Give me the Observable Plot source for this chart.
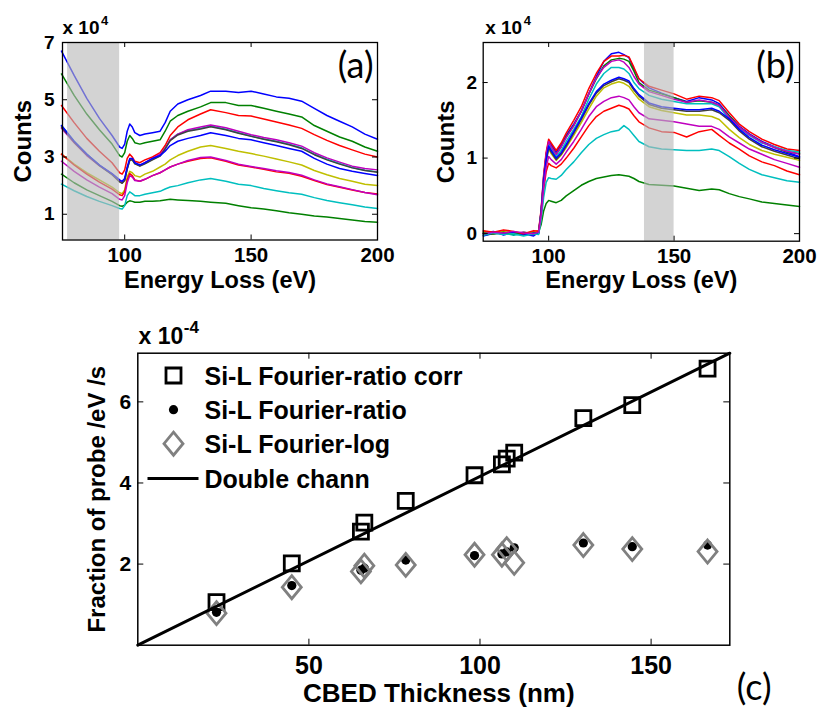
<!DOCTYPE html>
<html><head><meta charset="utf-8">
<script src="https://cdn.jsdelivr.net/npm/d3@7"></script>
<script src="https://cdn.jsdelivr.net/npm/@observablehq/plot@0.6"></script>
<style>
body{margin:0;background:#fff;}
#root{position:relative;width:825px;height:710px;overflow:hidden;}
.panel{position:absolute;}
.panel svg{overflow:visible;}
</style></head><body><div id="root"></div>
<script>
// ---------- Panel (a): raw spectra (x 10^4 counts) ----------
const energyA = [75, 80, 85, 90, 95, 98, 99, 100, 101, 102, 103, 104, 106, 108, 111, 114, 116, 118, 121, 125, 130, 134, 140, 145, 150, 155, 160, 165, 170, 175, 180, 185, 190, 195, 200];
const a01 = [6.7, 5.85, 5.05, 4.35, 3.75, 3.35, 3.3, 3.45, 3.9, 4.15, 4.05, 3.85, 3.75, 3.8, 3.85, 3.9, 4.2, 4.6, 4.85, 5.0, 5.15, 5.3, 5.3, 5.25, 5.3, 5.2, 5.1, 5.05, 4.95, 4.7, 4.45, 4.25, 4.05, 3.8, 3.62];
const a02 = [5.9, 5.15, 4.5, 3.95, 3.45, 3.05, 3.0, 3.15, 3.55, 3.75, 3.65, 3.5, 3.45, 3.5, 3.55, 3.6, 3.9, 4.25, 4.45, 4.6, 4.75, 4.9, 4.9, 4.8, 4.8, 4.7, 4.6, 4.5, 4.4, 4.1, 3.9, 3.7, 3.55, 3.35, 3.2];
const a03 = [4.8, 4.2, 3.65, 3.2, 2.8, 2.45, 2.4, 2.55, 2.95, 3.1, 3.0, 2.85, 2.8, 2.9, 3.0, 3.15, 3.4, 3.75, 4.05, 4.3, 4.5, 4.65, 4.55, 4.45, 4.43, 4.33, 4.22, 4.12, 4.0, 3.78, 3.58, 3.4, 3.25, 3.1, 3.0];
const a04 = [4.1, 3.55, 3.1, 2.72, 2.4, 2.15, 2.1, 2.2, 2.6, 2.9, 2.9, 2.78, 2.7, 2.78, 2.92, 3.05, 3.3, 3.6, 3.8, 3.92, 4.0, 4.08, 3.97, 3.85, 3.73, 3.63, 3.55, 3.45, 3.32, 3.1, 2.92, 2.77, 2.63, 2.54, 2.48];
const a05 = [4.0, 3.5, 3.05, 2.7, 2.4, 2.15, 2.1, 2.2, 2.6, 2.9, 2.95, 2.8, 2.7, 2.8, 2.95, 3.1, 3.3, 3.6, 3.8, 3.95, 4.05, 4.12, 4.02, 3.9, 3.78, 3.68, 3.6, 3.5, 3.38, 3.15, 2.97, 2.82, 2.68, 2.6, 2.55];
const a06 = [3.1, 2.75, 2.45, 2.2, 1.95, 1.75, 1.72, 1.85, 2.3, 2.5, 2.45, 2.35, 2.3, 2.4, 2.5, 2.65, 2.75, 2.9, 3.05, 3.2, 3.35, 3.4, 3.3, 3.2, 3.12, 3.03, 2.93, 2.83, 2.72, 2.53, 2.38, 2.25, 2.15, 2.05, 2.0];
const a07 = [4.05, 3.52, 3.08, 2.7, 2.38, 2.13, 2.08, 2.18, 2.58, 2.88, 2.9, 2.76, 2.68, 2.76, 2.9, 3.03, 3.28, 3.57, 3.77, 3.9, 3.98, 4.06, 3.95, 3.83, 3.72, 3.62, 3.53, 3.43, 3.3, 3.08, 2.9, 2.75, 2.62, 2.53, 2.47];
const a08 = [4.1, 3.55, 3.1, 2.72, 2.42, 2.2, 2.15, 2.25, 2.65, 2.95, 2.95, 2.8, 2.72, 2.8, 2.95, 3.05, 3.2, 3.4, 3.55, 3.65, 3.75, 3.85, 3.75, 3.65, 3.6, 3.5, 3.4, 3.3, 3.2, 2.95, 2.75, 2.6, 2.5, 2.42, 2.35];
const a09 = [2.4, 2.1, 1.85, 1.65, 1.45, 1.3, 1.28, 1.32, 1.42, 1.47, 1.45, 1.42, 1.42, 1.45, 1.45, 1.47, 1.5, 1.52, 1.5, 1.48, 1.45, 1.42, 1.38, 1.3, 1.23, 1.18, 1.12, 1.05, 1.0, 0.94, 0.9, 0.85, 0.8, 0.75, 0.72];
const a10 = [3.1, 2.72, 2.4, 2.12, 1.88, 1.68, 1.65, 1.78, 2.2, 2.42, 2.35, 2.2, 2.15, 2.22, 2.35, 2.45, 2.55, 2.65, 2.75, 2.85, 2.95, 2.97, 2.85, 2.72, 2.65, 2.57, 2.48, 2.43, 2.33, 2.18, 2.04, 1.94, 1.85, 1.76, 1.71];
const a11 = [2.05, 1.82, 1.62, 1.45, 1.3, 1.2, 1.18, 1.3, 1.65, 1.78, 1.72, 1.65, 1.65, 1.7, 1.75, 1.8, 1.88, 1.95, 2.0, 2.1, 2.2, 2.25, 2.15, 2.05, 2.0, 1.9, 1.82, 1.75, 1.7, 1.58, 1.48, 1.4, 1.33, 1.25, 1.2];
const a12 = [2.85, 2.5, 2.2, 1.95, 1.72, 1.52, 1.5, 1.65, 2.1, 2.35, 2.3, 2.18, 2.15, 2.22, 2.35, 2.45, 2.55, 2.65, 2.75, 2.88, 2.98, 3.0, 2.88, 2.75, 2.67, 2.6, 2.52, 2.46, 2.36, 2.2, 2.06, 1.96, 1.86, 1.76, 1.68];

// ---------- Panel (b): background-subtracted spectra (x 10^4 counts) ----------
const energyB = [74, 78, 82, 86, 90, 94, 96, 97, 98, 99, 100, 101, 103, 105, 107, 110, 113, 116, 119, 122, 125, 128, 130, 132, 134, 136, 140, 145, 150, 155, 160, 165, 168, 172, 176, 180, 185, 190, 195, 200];
const b01 = [0.01, 0.03, -0.02, 0.02, 0.0, -0.03, 0.02, 0.3, 0.75, 1.05, 1.22, 1.18, 1.08, 1.18, 1.3, 1.45, 1.62, 1.85, 2.08, 2.28, 2.38, 2.4, 2.37, 2.33, 2.18, 2.05, 1.93, 1.86, 1.8, 1.75, 1.8, 1.77, 1.72, 1.56, 1.42, 1.32, 1.22, 1.15, 1.08, 1.02];
const b02 = [0.0, 0.02, 0.01, -0.01, 0.02, 0.0, 0.01, 0.28, 0.72, 1.02, 1.2, 1.15, 1.05, 1.15, 1.28, 1.43, 1.62, 1.85, 2.05, 2.22, 2.3, 2.32, 2.31, 2.28, 2.15, 2.0, 1.9, 1.85, 1.8, 1.74, 1.76, 1.74, 1.7, 1.56, 1.41, 1.31, 1.21, 1.14, 1.08, 1.06];
const b03 = [0.03, 0.01, 0.04, 0.02, -0.01, 0.03, 0.04, 0.32, 0.78, 1.08, 1.25, 1.2, 1.1, 1.2, 1.33, 1.5, 1.68, 1.92, 2.12, 2.28, 2.35, 2.35, 2.36, 2.34, 2.2, 2.05, 1.95, 1.9, 1.85, 1.78, 1.82, 1.8, 1.76, 1.6, 1.45, 1.35, 1.25, 1.18, 1.12, 1.1];
const b04 = [-0.02, 0.0, 0.01, -0.02, 0.0, -0.01, 0.01, 0.28, 0.72, 1.0, 1.18, 1.12, 1.02, 1.1, 1.22, 1.38, 1.55, 1.78, 1.98, 2.12, 2.2, 2.2, 2.18, 2.12, 2.0, 1.92, 1.83, 1.78, 1.75, 1.72, 1.72, 1.72, 1.68, 1.52, 1.4, 1.3, 1.2, 1.15, 1.1, 1.08];
const b05 = [0.0, 0.02, 0.0, 0.01, 0.02, 0.0, 0.02, 0.3, 0.75, 1.05, 1.22, 1.15, 1.05, 1.15, 1.27, 1.43, 1.62, 1.85, 2.06, 2.2, 2.28, 2.3, 2.27, 2.2, 2.08, 1.98, 1.88, 1.83, 1.78, 1.74, 1.77, 1.74, 1.7, 1.54, 1.41, 1.31, 1.21, 1.14, 1.09, 1.05];
const b06 = [0.02, 0.0, 0.03, 0.01, 0.0, 0.02, 0.03, 0.27, 0.68, 0.95, 1.12, 1.06, 0.97, 1.04, 1.14, 1.3, 1.47, 1.65, 1.82, 1.93, 1.98, 2.01, 1.99, 1.95, 1.86, 1.78, 1.68, 1.63, 1.6, 1.57, 1.57, 1.55, 1.51, 1.38, 1.27, 1.18, 1.1, 1.05, 1.01, 0.97];
const b07 = [-0.02, 0.0, 0.01, 0.0, -0.01, 0.0, 0.01, 0.27, 0.68, 0.96, 1.14, 1.08, 0.98, 1.05, 1.16, 1.33, 1.51, 1.7, 1.86, 1.96, 2.01, 2.05, 2.03, 2.0, 1.9, 1.82, 1.71, 1.66, 1.64, 1.62, 1.62, 1.64, 1.6, 1.5, 1.36, 1.25, 1.15, 1.09, 1.04, 0.99];
const b08 = [-0.03, 0.01, 0.0, 0.02, -0.02, 0.01, 0.0, 0.28, 0.7, 0.98, 1.16, 1.1, 1.0, 1.07, 1.18, 1.35, 1.53, 1.72, 1.88, 1.98, 2.03, 2.07, 2.05, 2.02, 1.92, 1.84, 1.73, 1.68, 1.66, 1.64, 1.64, 1.66, 1.62, 1.52, 1.38, 1.27, 1.17, 1.11, 1.06, 1.01];
const b09 = [0.01, 0.0, 0.02, -0.01, 0.01, 0.0, 0.02, 0.12, 0.3, 0.4, 0.44, 0.43, 0.41, 0.44, 0.5, 0.57, 0.64, 0.69, 0.73, 0.75, 0.77, 0.78, 0.77, 0.76, 0.73, 0.69, 0.65, 0.64, 0.63, 0.6, 0.57, 0.59, 0.58, 0.53, 0.49, 0.46, 0.42, 0.4, 0.38, 0.36];
const b10 = [0.04, 0.02, 0.05, 0.03, 0.0, 0.04, 0.03, 0.22, 0.58, 0.82, 0.93, 0.9, 0.87, 0.92, 1.0, 1.13, 1.28, 1.43, 1.55, 1.62, 1.66, 1.7, 1.68, 1.65, 1.56, 1.48, 1.4, 1.35, 1.34, 1.28, 1.35, 1.38, 1.3, 1.2, 1.12, 1.03, 0.95, 0.9, 0.83, 0.78];
const b11 = [-0.02, 0.01, -0.01, 0.0, -0.03, 0.0, -0.01, 0.18, 0.48, 0.68, 0.74, 0.73, 0.72, 0.77, 0.85, 0.95, 1.07, 1.18, 1.26, 1.31, 1.35, 1.37, 1.43, 1.38, 1.3, 1.22, 1.15, 1.12, 1.11, 1.1, 1.1, 1.12, 1.1, 1.02, 0.93, 0.85, 0.78, 0.74, 0.7, 0.68];
const b12 = [0.0, 0.02, 0.01, 0.03, 0.01, 0.0, 0.02, 0.24, 0.62, 0.88, 1.02, 0.98, 0.92, 0.98, 1.08, 1.22, 1.38, 1.55, 1.68, 1.75, 1.8, 1.82, 1.8, 1.77, 1.68, 1.6, 1.52, 1.5, 1.48, 1.45, 1.42, 1.42, 1.38, 1.28, 1.2, 1.12, 1.05, 0.98, 0.93, 0.88];

const seriesNames = ["1","2","3","4","5","6","7","8","9","10","11","12"];
const seriesColors = ["#0000ff","#008000","#ff0000","#00bfbf","#bf00bf","#bfbf00","#404040","#0000ff","#008000","#ff0000","#00bfbf","#bf00bf"];
const shadeA = [77.4, 98];
const shadeB = [138.2, 150];

// ---------- Panel (c): fraction of probe (x 10^-4) ----------
const thickness = [23, 45, 65.2, 66.2, 78.3, 98.4, 106.4, 107.8, 110, 130.2, 144.5, 166.5];
const ratioCorr = [1.06, 2.02, 2.8, 3.02, 3.56, 4.19, 4.46, 4.6, 4.75, 5.6, 5.92, 6.82];
const ratio = [0.81, 1.47, 1.85, 1.9, 2.1, 2.21, 2.25, 2.3, 2.4, 2.52, 2.43, 2.47];
const logMethod = [0.79, 1.43, 1.82, 1.96, 1.98, 2.23, 2.23, 2.37, 2.03, 2.47, 2.37, 2.31];
const doubleThk = [0, 173];
const doubleVal = [0, 7.2];
const legendLabels = ["Si-L Fourier-ratio corr", "Si-L Fourier-ratio", "Si-L Fourier-log", "Double chann"];

// ---------- build ----------
const FONT = "'Liberation Sans', Arial, sans-serif";
const TAGFONT = "Lato, 'Open Sans', sans-serif";
const root = document.getElementById("root");
function place(el, left, top){ const d=document.createElement("div"); d.className="panel"; d.style.left=left+"px"; d.style.top=top+"px"; d.appendChild(el); root.appendChild(d); }

function boxTicks(xt, yt, iw, ih, len){
  return [
    Plot.tickX(xt, {x: d=>d, insetTop: ih-len, stroke:"#000", strokeWidth:1}),
    Plot.tickX(xt, {x: d=>d, insetBottom: ih-len, stroke:"#000", strokeWidth:1}),
    Plot.tickY(yt, {y: d=>d, insetRight: iw-len, stroke:"#000", strokeWidth:1}),
    Plot.tickY(yt, {y: d=>d, insetLeft: iw-len, stroke:"#000", strokeWidth:1})
  ];
}
function longData(E, curves){ return curves.flatMap((vals,k)=>E.map((e,i)=>({E:e, v:vals[i], s:seriesNames[k]}))); }

function spectrumPanel(o){
  const iw = o.width - o.ml - o.mr, ih = o.height - o.mt - o.mb;
  return Plot.plot({
    width:o.width, height:o.height, marginLeft:o.ml, marginRight:o.mr, marginTop:o.mt, marginBottom:o.mb,
    x:{domain:o.xd}, y:{domain:o.yd},
    color:{type:"ordinal", domain:seriesNames, range:seriesColors},
    style:{fontFamily:FONT, fontWeight:"bold", color:"#000", background:"transparent"},
    marks:[
      Plot.line(longData(o.E, o.curves), {x:"E", y:"v", z:"s", stroke:"s", strokeWidth:1.5, curve:"linear"}),
      Plot.rect([o.shade], {x1:d=>d[0], x2:d=>d[1], fill:"#b8b8b8", fillOpacity:0.62}),
      Plot.frame({stroke:"#000", strokeWidth:1.3}),
      ...boxTicks(o.xt, o.yt, iw, ih, 5),
      Plot.axisX({ticks:o.xt, tickSize:0, tickPadding:7, fontSize:20.5, fontWeight:"bold", label:null, tickFormat:d=>String(d)}),
      Plot.axisY({ticks:o.yt, tickSize:0, tickPadding:o.ypad, fontSize:19, fontWeight:"bold", label:null, tickFormat:d=>String(d)}),
      Plot.text(["Energy Loss (eV)"], {frameAnchor:"bottom", textAnchor:"middle", dy:o.xlabDy, lineAnchor:"bottom", fontSize:23.5, fontWeight:"bold"}),
      Plot.text(["Counts"], {frameAnchor:"left", textAnchor:"middle", dx:o.ylabDx, rotate:-90, lineAnchor:"bottom", fontSize:24, fontWeight:"bold"}),
      Plot.text(["x 10"], {frameAnchor:"top-left", dx:o.expDx, dy:-9, textAnchor:"start", lineAnchor:"bottom", fontSize:19, fontWeight:"bold"}),
      Plot.text(["4"], {frameAnchor:"top-left", dx:o.expDx+38.5, dy:-18, textAnchor:"start", lineAnchor:"bottom", fontSize:13, fontWeight:"bold"}),
      Plot.text([o.tag], {frameAnchor:"top-right", dx:o.tagDx, dy:35, textAnchor:"end", lineAnchor:"bottom", fontSize:36, fontWeight:"normal", fontFamily:TAGFONT})
    ]
  });
}

const pa = spectrumPanel({width:405, height:300, ml:62, mr:28, mt:42, mb:60.5, xd:[75.4,200], yd:[0.1,7],
  E:energyA, curves:[a01,a02,a03,a04,a05,a06,a07,a08,a09,a10,a11,a12], shade:shadeA,
  xt:[100,150,200], yt:[1,3,5,7], ypad:8, xlabDy:48, ylabDx:-32, expDx:0, tag:"(a)", tagDx:-4});
place(pa, 0, 0);

const pb = spectrumPanel({width:420, height:300, ml:77.7, mr:26, mt:42, mb:59.3, xd:[73.9,200], yd:[-0.1,2.53],
  E:energyB, curves:[b01,b02,b03,b04,b05,b06,b07,b08,b09,b10,b11,b12], shade:shadeB,
  xt:[100,150,200], yt:[0,1,2], ypad:6, xlabDy:46.5, ylabDx:-29.7, expDx:2, tag:"(b)", tagDx:-5});
place(pb, 405, 0);

// custom Matlab-like markers
const sqSym = {draw(ctx){ const s=7.5; ctx.moveTo(-s,-s); ctx.lineTo(s,-s); ctx.lineTo(s,s); ctx.lineTo(-s,s); ctx.closePath(); }};
const diaSym = {draw(ctx){ const w=9.5,h=11.5; ctx.moveTo(0,-h); ctx.lineTo(w,0); ctx.lineTo(0,h); ctx.lineTo(-w,0); ctx.closePath(); }};
const lineSym = {draw(ctx){ ctx.moveTo(-25.5,0); ctx.lineTo(25.5,0); }};

const ptsC = thickness.map((t,i)=>({t, corr:ratioCorr[i], ratio:ratio[i], log:logMethod[i]}));
const lineC = doubleThk.map((t,i)=>({t, v:doubleVal[i]}));
const cW=825, cH=410, cml=137.3, cmr=95.7, cmt=52.7, cmb=65.3;
const ciw = cW-cml-cmr, cih = cH-cmt-cmb;
const legRows = [22.3, 56.5, 90.5, 125.3];
const pc = Plot.plot({
  width:cW, height:cH, marginLeft:cml, marginRight:cmr, marginTop:cmt, marginBottom:cmb,
  x:{domain:[0,173]}, y:{domain:[0,7.2]},
  style:{fontFamily:FONT, fontWeight:"bold", color:"#000", background:"transparent"},
  marks:[
    Plot.dot(ptsC, {x:"t", y:"corr", symbol:sqSym, fill:"none", stroke:"#000", strokeWidth:2.8}),
    Plot.dot(ptsC, {x:"t", y:"ratio", r:4.6, fill:"#000", stroke:"none"}),
    Plot.dot(ptsC, {x:"t", y:"log", symbol:diaSym, fill:"none", stroke:"#808080", strokeWidth:2.8}),
    Plot.line(lineC, {x:"t", y:"v", stroke:"#000", strokeWidth:3}),
    Plot.frame({stroke:"#000", strokeWidth:1.5}),
    ...boxTicks([50,100,150], [2,4,6], ciw, cih, 6),
    Plot.axisX({ticks:[50,100,150], tickSize:0, tickPadding:11, fontSize:25, fontWeight:"bold", label:null, tickFormat:d=>String(d)}),
    Plot.axisY({ticks:[2,4,6], tickSize:0, tickPadding:6.6, fontSize:21, fontWeight:"bold", label:null, tickFormat:d=>String(d)}),
    Plot.text(["CBED Thickness (nm)"], {frameAnchor:"bottom", textAnchor:"middle", dy:57, dx:5, lineAnchor:"bottom", fontSize:26, fontWeight:"bold"}),
    Plot.text(["Fraction of probe /eV /s"], {frameAnchor:"left", textAnchor:"middle", dx:-33, rotate:-90, lineAnchor:"bottom", fontSize:24, fontWeight:"bold"}),
    Plot.text(["x 10"], {frameAnchor:"top-left", dx:0.7, dy:-9.7, textAnchor:"start", lineAnchor:"bottom", fontSize:23, fontWeight:"bold"}),
    Plot.text(["-4"], {frameAnchor:"top-left", dx:46, dy:-20, textAnchor:"start", lineAnchor:"bottom", fontSize:17, fontWeight:"bold"}),
    Plot.text(["(c)"], {frameAnchor:"bottom-right", textAnchor:"start", dx:7, dy:55, lineAnchor:"bottom", fontSize:36, fontWeight:"normal", fontFamily:TAGFONT}),
    Plot.dot([0], {frameAnchor:"top-left", dx:35.7, dy:legRows[0], symbol:sqSym, fill:"none", stroke:"#000", strokeWidth:2.8}),
    Plot.dot([0], {frameAnchor:"top-left", dx:35.7, dy:legRows[1], r:4.6, fill:"#000", stroke:"none"}),
    Plot.dot([0], {frameAnchor:"top-left", dx:35.7, dy:legRows[2], symbol:diaSym, fill:"none", stroke:"#808080", strokeWidth:2.8}),
    Plot.dot([0], {frameAnchor:"top-left", dx:35.2, dy:legRows[3], symbol:lineSym, fill:"none", stroke:"#000", strokeWidth:3}),
    ...legendLabels.map((t,i)=>Plot.text([t], {frameAnchor:"top-left", dx:66.7, dy:legRows[i]+9, textAnchor:"start", lineAnchor:"bottom", fontSize:25, fontWeight:"bold"}))
  ]
});
place(pc, 0, 300);
</script></body></html>
